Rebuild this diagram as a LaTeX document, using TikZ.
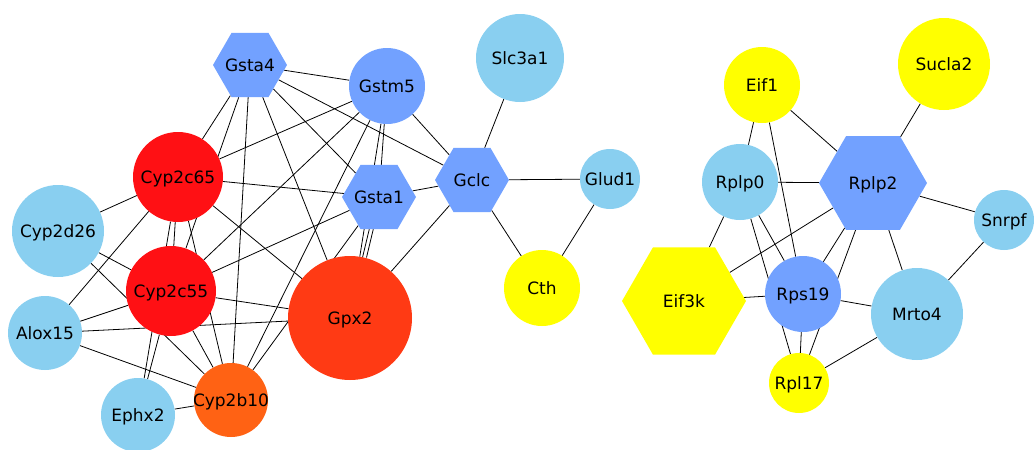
\documentclass[tikz,border=0pt]{standalone}
\usepackage{fontspec}
\setmainfont{DejaVu Sans}
\usetikzlibrary{shapes.geometric,backgrounds}
\definecolor{skyblue}{RGB}{137,207,240}
\definecolor{midblue}{RGB}{114,161,255}
\definecolor{genered}{RGB}{255,16,20}
\definecolor{gpxred}{RGB}{255,58,20}
\definecolor{cyporange}{RGB}{255,98,20}
\definecolor{geneyellow}{RGB}{255,255,0}
\newcommand\gtxt[1]{\makebox[0pt]{#1}}
\begin{document}
\begin{tikzpicture}[x=1pt,y=-1pt,
    gene/.style={circle,inner sep=0pt,text height=12.5pt,text depth=0pt,
      font=\fontsize{17}{20}\selectfont},
    hexgene/.style={gene,regular polygon,regular polygon sides=6},
    link/.style={draw=black,line width=0.8pt}]
    \useasboundingbox (0,0) rectangle (1034,450);
    \node[hexgene,fill=midblue,minimum size=74pt] (gsta4) at (250,65) {\gtxt{Gsta4}};
    \node[gene,fill=midblue,minimum size=76pt] (gstm5) at (387,86) {\gtxt{Gstm5}};
    \node[gene,fill=skyblue,minimum size=88pt] (slc3a1) at (520,58) {\gtxt{Slc3a1}};
    \node[gene,fill=genered,minimum size=90pt] (cyp2c65) at (178,177) {\gtxt{Cyp2c65}};
    \node[hexgene,fill=midblue,minimum size=74pt] (gsta1) at (379,197) {\gtxt{Gsta1}};
    \node[hexgene,fill=midblue,minimum size=74pt] (gclc) at (472,180) {\gtxt{Gclc}};
    \node[gene,fill=skyblue,minimum size=60pt] (glud1) at (610,179) {\gtxt{Glud1}};
    \node[gene,fill=geneyellow,minimum size=76pt] (cth) at (542,288) {\gtxt{Cth}};
    \node[gene,fill=skyblue,minimum size=92pt] (cyp2d26) at (58,231) {\gtxt{Cyp2d26}};
    \node[gene,fill=genered,minimum size=90pt] (cyp2c55) at (171,291) {\gtxt{Cyp2c55}};
    \node[gene,fill=gpxred,minimum size=124pt] (gpx2) at (350,318) {\gtxt{Gpx2}};
    \node[gene,fill=skyblue,minimum size=74pt] (alox15) at (45,333) {\gtxt{Alox15}};
    \node[gene,fill=skyblue,minimum size=74pt] (ephx2) at (138,415) {\gtxt{Ephx2}};
    \node[gene,fill=cyporange,minimum size=74pt] (cyp2b10) at (231,400) {\gtxt{Cyp2b10}};
    \node[gene,fill=geneyellow,minimum size=76pt] (eif1) at (762,85) {\gtxt{Eif1}};
    \node[gene,fill=geneyellow,minimum size=92pt] (sucla2) at (944,64) {\gtxt{Sucla2}};
    \node[gene,fill=skyblue,minimum size=76pt] (rplp0) at (740,182) {\gtxt{Rplp0}};
    \node[hexgene,fill=midblue,minimum size=108pt] (rplp2) at (873,183) {\gtxt{Rplp2}};
    \node[gene,fill=skyblue,minimum size=60pt] (snrpf) at (1004,220) {\gtxt{Snrpf}};
    \node[hexgene,fill=geneyellow,minimum size=124pt] (eif3k) at (684,301) {\gtxt{Eif3k}};
    \node[gene,fill=midblue,minimum size=76pt] (rps19) at (803,294) {\gtxt{Rps19}};
    \node[gene,fill=skyblue,minimum size=92pt] (mrto4) at (917,314) {\gtxt{Mrto4}};
    \node[gene,fill=geneyellow,minimum size=60pt] (rpl17) at (799,383) {\gtxt{Rpl17}};
    \begin{pgfonlayer}{background}
    \foreach \a/\b in {gsta4/gstm5,gsta4/gclc,gsta4/gsta1,gsta4/cyp2c65,gsta4/cyp2c55,
        gsta4/cyp2b10,gsta4/gpx2,gstm5/cyp2c65,gstm5/cyp2c55,gstm5/cyp2b10,gstm5/gsta1,
        gstm5/gpx2,gstm5/gclc,slc3a1/gclc,gclc/glud1,gclc/cth,glud1/cth,gsta1/gclc,
        gclc/gpx2,cyp2c65/gsta1,cyp2c65/gpx2,cyp2c65/cyp2d26,cyp2c65/alox15,
        cyp2c65/cyp2c55,cyp2c65/ephx2,cyp2c65/cyp2b10,cyp2d26/cyp2c55,cyp2d26/cyp2b10,
        alox15/cyp2c55,alox15/gpx2,alox15/cyp2b10,cyp2c55/gpx2,cyp2c55/ephx2,
        cyp2c55/cyp2b10,cyp2c55/gsta1,ephx2/cyp2b10,cyp2b10/gsta1,
        eif1/rplp0,eif1/rplp2,eif1/rps19,sucla2/rplp2,rplp0/rplp2,rplp0/eif3k,
        rplp0/rps19,rplp0/rpl17,rplp2/snrpf,rplp2/eif3k,rplp2/rps19,rplp2/rpl17,
        rplp2/mrto4,snrpf/mrto4,eif3k/rps19,rps19/mrto4,rps19/rpl17,rpl17/mrto4}
        \draw[link] (\a) -- (\b);
    \draw[link,transform canvas={xshift=-2pt}] (gsta1) -- (gpx2);
    \draw[link,transform canvas={xshift=2pt}] (gsta1) -- (gpx2);
    \end{pgfonlayer}
\end{tikzpicture}
\end{document}
